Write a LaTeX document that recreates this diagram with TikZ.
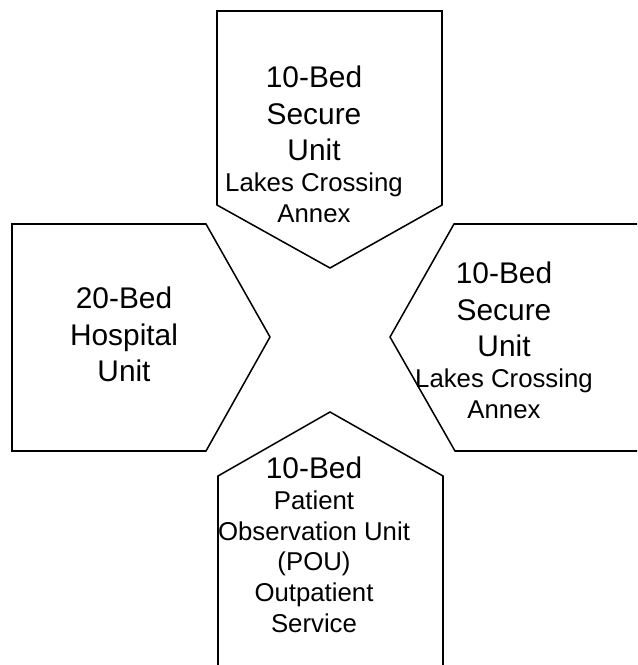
\documentclass[tikz,border=0pt]{standalone}
\usepackage{fontspec}
\setmainfont{Liberation Sans}
\usepackage{tikz}
\newcommand{\bigsize}{\fontsize{25.5}{31.2}\selectfont}
\newcommand{\smallsize}{\fontsize{22}{26.2}\selectfont}

\begin{document}
\begin{tikzpicture}[x=0.03cm, y=-0.03cm,
  unitshape/.style={draw=black, line width=1.3pt, line join=miter},
  unitlabel/.style={anchor=north, align=center, inner sep=0pt, font=\bigsize}]
  \useasboundingbox (0,0) rectangle (637,665);
  \clip (0,0) rectangle (637,665);

  % Arrow shapes pointing to the centre
  \draw[unitshape] (217,11) -- (442,11) -- (442,205) -- (330,268) -- (217,205) -- cycle;
  \draw[unitshape] (12,224) -- (206,224) -- (270,337) -- (206,451) -- (12,451) -- cycle;
  \draw[unitshape] (454,224) -- (660,224) -- (660,451) -- (455,451) -- (390,337) -- cycle;
  \draw[unitshape] (330,412) -- (443,476) -- (443,700) -- (218,700) -- (218,476) -- cycle;

  % Labels
  \node[unitlabel] (secure top) at (314,66)
    {10-Bed\\Secure\\Unit\\[-5pt]{\smallsize Lakes Crossing}\\[-5pt]{\smallsize Annex}};
  \node[unitlabel] (hospital) at (124,287) {20-Bed\\Hospital\\Unit};
  \node[unitlabel] (secure right) at (504,262)
    {10-Bed\\Secure\\Unit\\[-5pt]{\smallsize Lakes Crossing}\\[-5pt]{\smallsize Annex}};
  \node[unitlabel, font=\smallsize] (observation) at (314,457)
    {{\bigsize 10-Bed}\\Patient\\Observation Unit\\(POU)\\Outpatient\\Service};
\end{tikzpicture}
\end{document}
